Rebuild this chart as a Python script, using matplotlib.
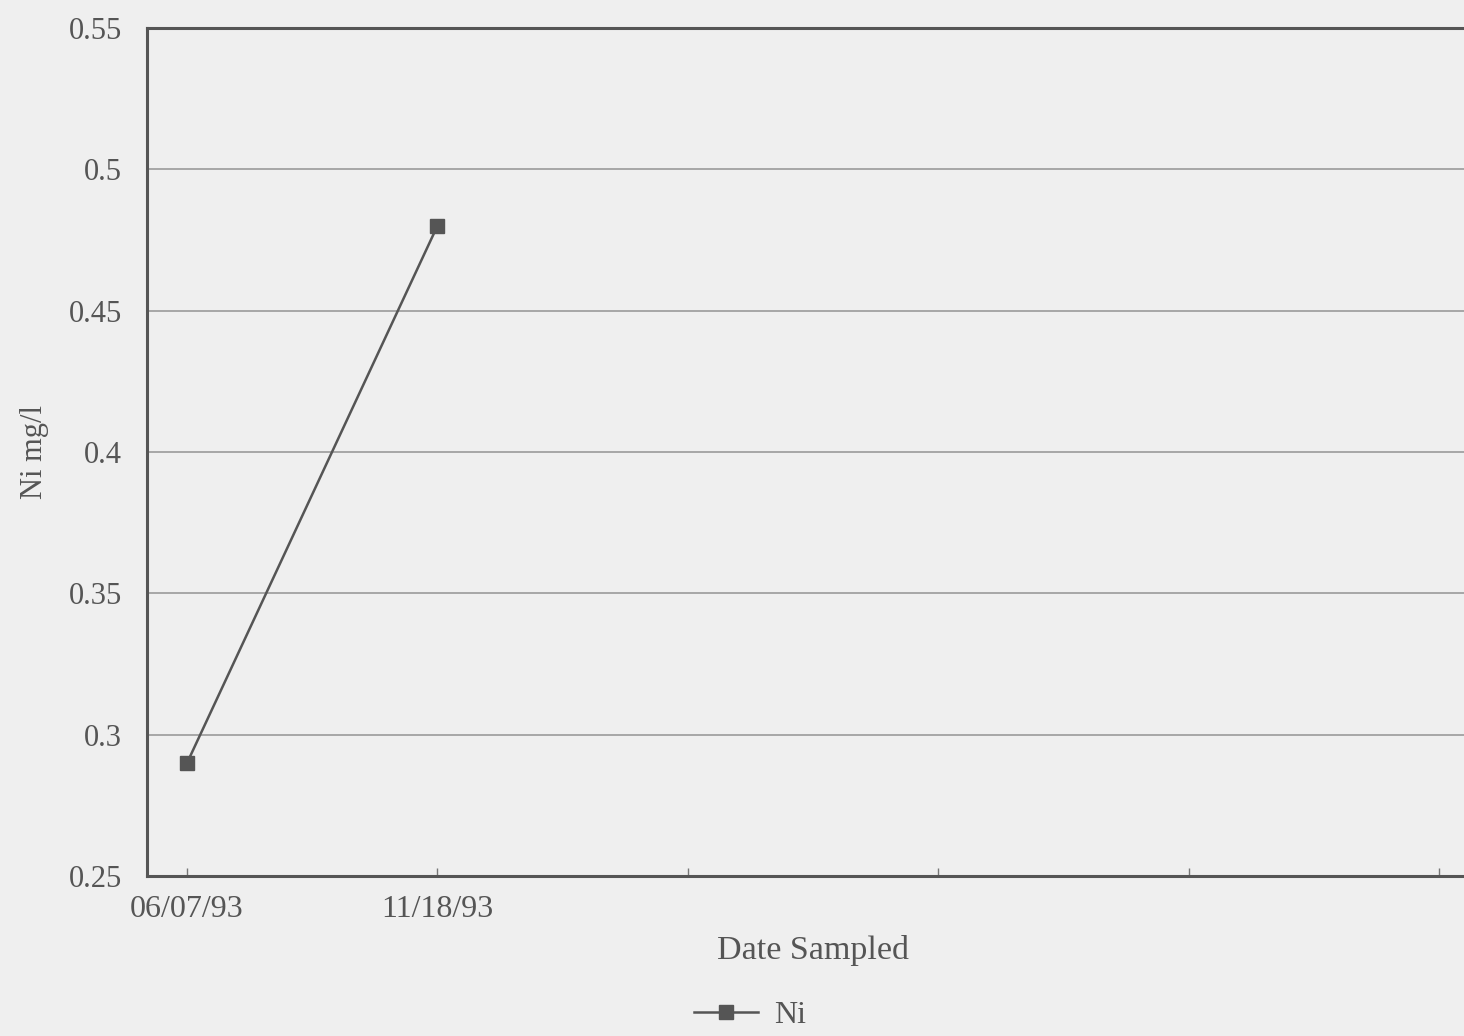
import matplotlib.pyplot as plt
import numpy as np

dates = ["06/07/93", "11/18/93", "", "", "", ""]
ni_values = [0.29, 0.48]
yticks = [0.25, 0.3, 0.35, 0.4, 0.45, 0.5, 0.55]

plt.rcParams['font.family'] = ['Liberation Serif', 'DejaVu Serif']

fig = plt.figure(figsize=(14.64, 10.36), dpi=100, facecolor='#efefef')
ax = fig.add_axes([0.1004, 0.1544, 0.8996, 0.8186])
ax.set_facecolor('#efefef')

x = np.arange(len(dates))
ax.plot(x[:len(ni_values)], ni_values, color='#555555', lw=1.8, marker='s',
        markersize=10, markerfacecolor='#555555', markeredgecolor='#555555', label='Ni')

ax.set_xlim(-0.16, 5.1)
ax.set_ylim(0.25, 0.55)
ax.set_xticks(x)
ax.set_xticklabels(dates)
ax.set_yticks(yticks)
ax.set_yticklabels([f"{v:g}" for v in yticks])

ax.grid(axis='y', color='#9a9a9a', lw=1.2)
ax.set_axisbelow(True)

for s in ['left', 'bottom', 'top']:
    ax.spines[s].set_color('#555555')
    ax.spines[s].set_linewidth(2.2)
ax.spines['right'].set_visible(False)

ax.tick_params(axis='x', direction='in', length=6, width=1.0, color='#777777',
               labelsize=23, labelcolor='#555555', pad=14)
ax.tick_params(axis='y', length=0, labelsize=22, labelcolor='#555555', pad=18)

ax.set_xlabel('Date Sampled', fontsize=24.5, color='#555555')
ax.set_ylabel('Ni mg/l', fontsize=22, color='#555555', labelpad=14)
ax.xaxis.set_label_coords((813 - 147) / (1464 - 147), -0.07)

leg = ax.legend(loc='center', bbox_to_anchor=(0.458, -0.164), frameon=False,
                fontsize=23, handlelength=2.0, handletextpad=0.5,
                labelcolor='#555555', markerscale=1.0)

fig.savefig('out.png', dpi=100, facecolor=fig.get_facecolor())
